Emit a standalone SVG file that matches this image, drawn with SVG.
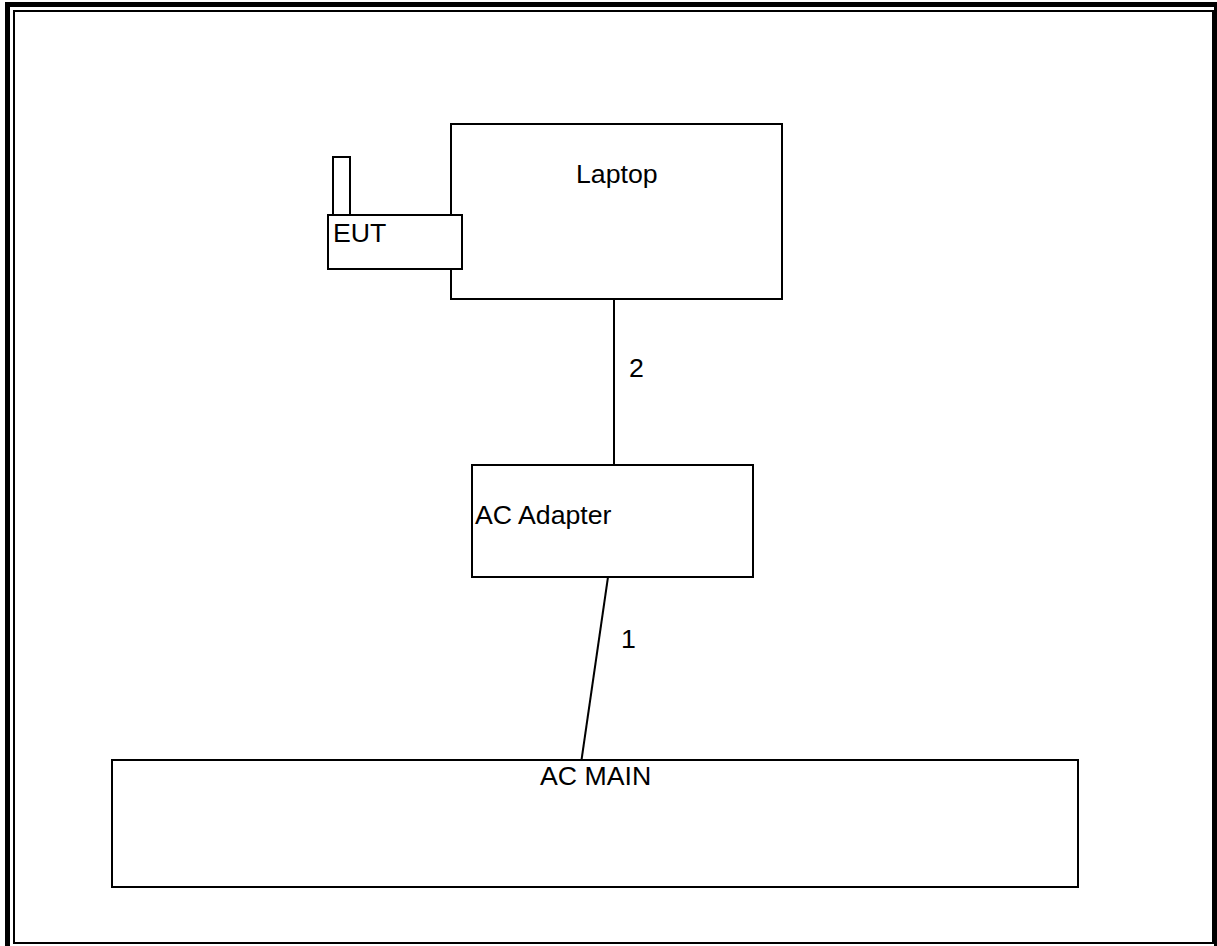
<svg xmlns="http://www.w3.org/2000/svg" width="1217" height="946" viewBox="0 0 1217 946">
<style>
.box{fill:#fff;stroke:#000;stroke-width:2}
.ln{stroke:#000;stroke-width:2;fill:none}
text{font-family:"Liberation Sans",Arial,sans-serif;font-size:26.7px;fill:#000}
</style>
<rect width="1217" height="946" fill="#fff"/>
<g id="border">
<rect x="5" y="2" width="5" height="944" fill="#000"/>
<rect x="5" y="2" width="1212" height="5" fill="#000"/>
<rect x="1214" y="2" width="3" height="944" fill="#000"/>
<rect x="14" y="11" width="1199" height="932" class="ln"/>
</g>
<g id="connectors">
<line x1="614" y1="299" x2="614" y2="465" class="ln"/>
<text x="629" y="377">2</text>
<line x1="608" y1="577" x2="581.5" y2="760" class="ln"/>
<text x="621" y="648">1</text>
</g>
<g id="laptop">
<rect x="451" y="124" width="331" height="175" class="box"/>
<text x="576" y="183">Laptop</text>
</g>
<g id="eut">
<rect x="333" y="157" width="17" height="58" class="box"/>
<rect x="328" y="215" width="134" height="54" class="box"/>
<text x="333" y="242">EUT</text>
</g>
<g id="ac-adapter">
<rect x="472" y="465" width="281" height="112" class="box"/>
<text x="475" y="524">AC Adapter</text>
</g>
<g id="ac-main">
<rect x="112" y="760" width="966" height="127" class="box"/>
<text x="540" y="785">AC MAIN</text>
</g>
</svg>
